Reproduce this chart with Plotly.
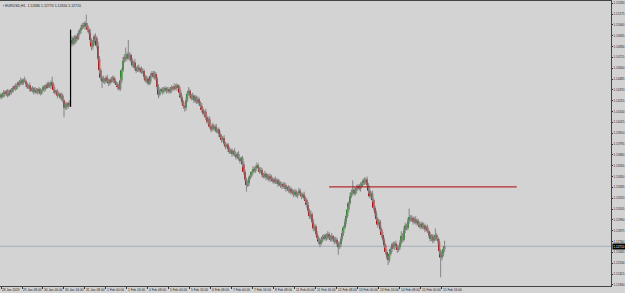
import plotly.graph_objects as go

symbol = "EURUSD,H1"
first_open = 1.1429

closes = [
    1.1432,1.1430,1.1434,1.1433,1.1436,1.1431,1.1434,1.1437,1.1435,1.1439,
    1.1441,1.1438,1.1442,1.1445,1.1443,1.1447,1.1444,1.1448,1.1446,1.1443,
    1.1440,1.1442,1.1438,1.1436,1.1439,1.1435,1.1437,1.1434,1.1438,1.1436,
    1.1433,1.1437,1.1440,1.1438,1.1442,1.1440,1.1444,1.1441,1.1445,1.1443,
    1.1437,1.1434,1.1436,1.1431,1.1433,1.1429,1.1431,1.1426,1.1418,1.1422,
    1.1419,1.1423,1.1421,1.1490,1.1486,1.1492,1.1488,1.1494,1.1491,1.1497,
    1.1500,1.1503,1.1506,1.1504,1.1508,1.1505,1.1501,1.1498,1.1490,1.1483,
    1.1487,1.1494,1.1492,1.1484,1.1470,1.1458,1.1450,1.1446,1.1449,1.1446,
    1.1450,1.1447,1.1444,1.1448,1.1446,1.1450,1.1447,1.1445,1.1443,1.1440,
    1.1438,1.1447,1.1458,1.1468,1.1472,1.1470,1.1475,1.1471,1.1474,1.1468,
    1.1463,1.1466,1.1460,1.1458,1.1461,1.1458,1.1460,1.1456,1.1457,1.1451,
    1.1447,1.1449,1.1444,1.1446,1.1452,1.1455,1.1451,1.1454,1.1449,1.1440,
    1.1432,1.1436,1.1438,1.1435,1.1437,1.1439,1.1436,1.1438,1.1435,1.1437,
    1.1440,1.1438,1.1441,1.1439,1.1442,1.1440,1.1434,1.1429,1.1424,1.1420,
    1.1418,1.1426,1.1433,1.1436,1.1431,1.1428,1.1431,1.1426,1.1429,1.1424,
    1.1427,1.1423,1.1420,1.1416,1.1412,1.1414,1.1408,1.1403,1.1406,1.1398,
    1.1395,1.1399,1.1396,1.1398,1.1393,1.1395,1.1390,1.1388,1.1384,1.1386,
    1.1380,1.1377,1.1379,1.1374,1.1371,1.1373,1.1369,1.1372,1.1368,1.1366,
    1.1369,1.1364,1.1362,1.1365,1.1358,1.1350,1.1342,1.1336,1.1338,1.1344,
    1.1346,1.1350,1.1353,1.1351,1.1355,1.1357,1.1354,1.1350,1.1352,1.1347,
    1.1345,1.1348,1.1344,1.1346,1.1342,1.1345,1.1343,1.1340,1.1342,1.1339,
    1.1341,1.1337,1.1339,1.1335,1.1337,1.1334,1.1336,1.1332,1.1334,1.1330,
    1.1332,1.1328,1.1330,1.1326,1.1329,1.1325,1.1327,1.1330,1.1327,1.1324,
    1.1326,1.1322,1.1320,1.1315,1.1309,1.1303,1.1305,1.1297,1.1290,1.1292,
    1.1284,1.1280,1.1276,1.1274,1.1278,1.1281,1.1279,1.1283,1.1280,1.1284,
    1.1281,1.1278,1.1282,1.1279,1.1276,1.1278,1.1274,1.1270,1.1273,1.1279,
    1.1285,1.1291,1.1297,1.1303,1.1310,1.1317,1.1324,1.1328,1.1331,1.1327,
    1.1330,1.1333,1.1335,1.1332,1.1336,1.1338,1.1341,1.1339,1.1342,1.1336,
    1.1330,1.1324,1.1327,1.1320,1.1312,1.1306,1.1300,1.1294,1.1297,1.1289,
    1.1283,1.1278,1.1272,1.1265,1.1259,1.1257,1.1263,1.1268,1.1273,1.1270,
    1.1274,1.1271,1.1267,1.1270,1.1275,1.1282,1.1278,1.1288,1.1293,1.1290,
    1.1298,1.1302,1.1299,1.1301,1.1297,1.1300,1.1296,1.1298,1.1294,1.1292,
    1.1295,1.1291,1.1293,1.1289,1.1291,1.1287,1.1283,1.1279,1.1282,1.1277,
    1.1280,1.1283,1.1279,1.1276,1.1266,1.1259,1.1262,1.1268,1.1271,
]

# wick lengths above / below the body, in pips
upper_wick = [
    2,1,3,2,1,2,3,1,2,2, 1,3,2,1,2,3,2,1,3,2, 2,1,3,2,2,1,3,2,1,2,
    3,1,2,2,1,3,2,1,2,6, 2,3,1,2,2,1,3,2,1,2, 2,1,3,11,4,2,3,1,2,3,
    2,3,2,3,2,9,3,2,4,2, 3,2,3,2,4,3,2,2,3,1, 2,3,2,1,3,2,2,3,1,2,
    2,3,2,4,3,10,2,15,3,2, 3,2,4,2,2,3,1,2,3,2, 2,3,2,1,3,2,2,3,2,2,
    3,2,1,2,3,2,1,2,2,3, 2,1,3,2,2,1,2,3,2,2, 1,3,2,4,2,2,3,1,2,2,
    3,2,2,3,2,1,3,2,2,3, 2,3,2,2,3,1,2,3,2,2, 3,2,1,2,3,2,2,1,3,2,
    2,3,2,1,2,3,2,2,3,2, 2,1,3,2,2,3,2,1,3,2, 2,3,1,2,2,3,2,1,2,3,
    2,2,3,1,2,2,3,2,1,2, 3,2,2,1,3,2,2,3,2,1, 2,3,2,2,3,2,4,2,3,2,
    2,3,2,3,2,2,3,1,2,3, 2,2,3,1,2,3,2,2,3,2, 3,2,3,2,3,2,4,3,10,3,
    2,3,2,2,3,2,2,3,2,3, 2,3,2,3,2,2,3,2,3,2, 2,3,2,2,3,2,3,2,2,3,
    2,3,2,2,3,5,3,4,3,2, 3,9,2,3,2,2,3,2,2,3, 2,2,3,2,2,3,2,3,2,2,
    3,7,2,2,3,2,3,2,6,
]
lower_wick = [
    2,2,1,3,2,2,1,2,3,1, 2,2,1,2,3,1,2,2,1,3, 2,2,3,1,2,3,2,1,2,3,
    2,1,2,3,2,2,1,2,3,2, 3,2,2,3,1,2,3,2,10,2, 3,2,2,2,3,2,3,2,2,1,
    2,3,2,2,3,2,3,2,3,4, 3,2,3,3,2,4,3,7,2,3, 2,2,3,2,2,1,3,2,2,3,
    2,2,3,2,2,3,2,2,3,2, 2,3,2,3,2,2,3,2,2,3, 2,3,2,2,3,2,2,3,2,3,
    4,2,2,3,2,2,3,2,2,2, 3,2,2,2,3,2,3,2,3,3, 4,3,2,2,3,2,2,3,2,2,
    2,3,2,3,2,3,3,2,3,2, 3,2,2,3,2,2,3,2,3,2, 2,3,2,3,2,2,3,2,2,3,
    2,2,3,2,3,3,2,7,2,3, 2,2,3,2,2,2,3,2,2,3, 2,2,3,2,2,3,2,2,3,2,
    2,3,2,2,3,2,2,3,2,2, 3,2,2,3,2,2,3,2,2,3, 2,2,3,3,2,3,3,2,3,3,
    2,2,3,4,2,3,2,2,3,2, 3,2,2,3,3,2,3,8,2,3, 2,3,2,3,2,3,2,2,3,2,
    2,3,2,2,3,2,2,3,2,3, 3,2,3,2,3,3,2,3,2,3, 3,2,3,3,2,6,3,2,3,2,
    3,2,3,2,3,2,3,2,3,2, 2,3,2,2,3,2,2,3,2,2, 3,2,2,3,2,2,3,3,2,3,
    2,3,2,3,4,21,3,2,3,
]

# time axis labels (every 16 H1 bars, starting at bar 0)
time_labels = ["28 Jan 2019", "29 Jan 08:00", "30 Jan 00:00", "30 Jan 16:00", "31 Jan 08:00",
               "1 Feb 00:00", "1 Feb 16:00", "4 Feb 08:00", "5 Feb 00:00", "5 Feb 16:00",
               "6 Feb 08:00", "7 Feb 00:00", "7 Feb 16:00", "8 Feb 08:00", "11 Feb 00:00",
               "11 Feb 16:00", "12 Feb 08:00", "13 Feb 00:00", "13 Feb 16:00", "14 Feb 08:00",
               "15 Feb 00:00", "15 Feb 16:00"]
time_label_step = 16

price_ticks = [1.15290, 1.15175, 1.15060, 1.14945, 1.14830, 1.14715, 1.14600, 1.14485,
               1.14370, 1.14255, 1.14140, 1.14025, 1.13910, 1.13795, 1.13680, 1.13565,
               1.13450, 1.13335, 1.13220, 1.13105, 1.12990, 1.12875, 1.12760, 1.12645,
               1.12530, 1.12415, 1.12300]

# horizontal level drawn by the trader (bar index start/end, price)
level_start, level_end, level_price = 250, 393, 1.1334
# news bar drawn as a plain black bar
news_bar = 53

PIP = 0.0001
n = len(closes)
idx = list(range(n))
opens = [first_open] + closes[:-1]
highs = [max(o, c) + u * PIP for o, c, u in zip(opens, closes, upper_wick)]
lows = [min(o, c) - d * PIP for o, c, d in zip(opens, closes, lower_wick)]

BG = "#d3d3d3"
WICK = "#858585"
UP = "#2a8a2a"
DN = "#b01818"

wx, wy = [], []
for i in idx:
    if i == news_bar:
        continue
    wx += [i, i, None]
    wy += [lows[i], highs[i], None]

body_base, body_h, body_col = [], [], []
for i in idx:
    o, c = opens[i], closes[i]
    body_base.append(min(o, c))
    body_h.append(max(abs(c - o), 0.00003))
    if i == news_bar:
        body_col.append("rgba(0,0,0,0)")
    else:
        body_col.append(UP if c > o else DN)

fig = go.Figure()
fig.add_trace(go.Scatter(x=wx, y=wy, mode="lines", line=dict(color=WICK, width=1),
                         hoverinfo="skip", showlegend=False))
fig.add_trace(go.Bar(x=idx, y=body_h, base=body_base, width=1.25,
                     marker=dict(color=body_col, line=dict(width=0)),
                     hoverinfo="skip", showlegend=False))
fig.add_trace(go.Scatter(x=[news_bar, news_bar], y=[lows[news_bar], highs[news_bar]],
                         mode="lines", line=dict(color="#000000", width=1.2),
                         hoverinfo="skip", showlegend=False))

last = closes[-1]
fig.add_shape(type="line", xref="paper", x0=0, x1=1, yref="y", y0=last, y1=last,
              line=dict(color="#a3adbb", width=1), layer="below")
fig.add_shape(type="line", xref="x", x0=level_start, x1=level_end, yref="y",
              y0=level_price, y1=level_price, line=dict(color="#b00000", width=1))

fig.add_annotation(xref="paper", yref="y", x=1, y=last, xanchor="left", yanchor="middle",
                   text=f"{last:.5f}", showarrow=False, bgcolor="#000000",
                   font=dict(color="#ffffff", size=3, family="Liberation Sans"),
                   borderpad=0.5, xshift=1)
title = (f"\u25aa {symbol}  {opens[-1]:.5f} {highs[-1]:.5f} {lows[-1]:.5f} {closes[-1]:.5f}")
fig.add_annotation(xref="paper", yref="paper", x=0, y=1, xanchor="left", yanchor="top",
                   text=title, showarrow=False, xshift=1, yshift=-1,
                   font=dict(color="#222222", size=3.5, family="Liberation Sans"))

tickvals_x = [i * time_label_step for i in range(len(time_labels))]

fig.update_layout(
    width=625, height=293,
    margin=dict(l=0, r=14, t=1, b=7, autoexpand=False),
    paper_bgcolor=BG, plot_bgcolor=BG,
    showlegend=False,
    xaxis=dict(range=[-0.76, 464.8], tickvals=tickvals_x, ticktext=time_labels,
               ticks="outside", ticklen=2, tickcolor="#333333", tickangle=0,
               ticklabelposition="outside right", automargin=False,
               tickfont=dict(size=3.2, color="#222222", family="Liberation Sans"),
               showgrid=False, zeroline=False, showline=True, linecolor="#444444",
               linewidth=1, mirror=True, fixedrange=True),
    yaxis=dict(range=[1.12288, 1.15314], side="right", tickvals=price_ticks,
               ticktext=[f"{v:.5f}" for v in price_ticks], automargin=False,
               ticks="outside", ticklen=1, tickcolor="#333333",
               tickfont=dict(size=3, color="#222222", family="Liberation Sans"),
               showgrid=False, zeroline=False, showline=True, linecolor="#444444",
               linewidth=1, fixedrange=True),
)

fig.write_html("out.html")
